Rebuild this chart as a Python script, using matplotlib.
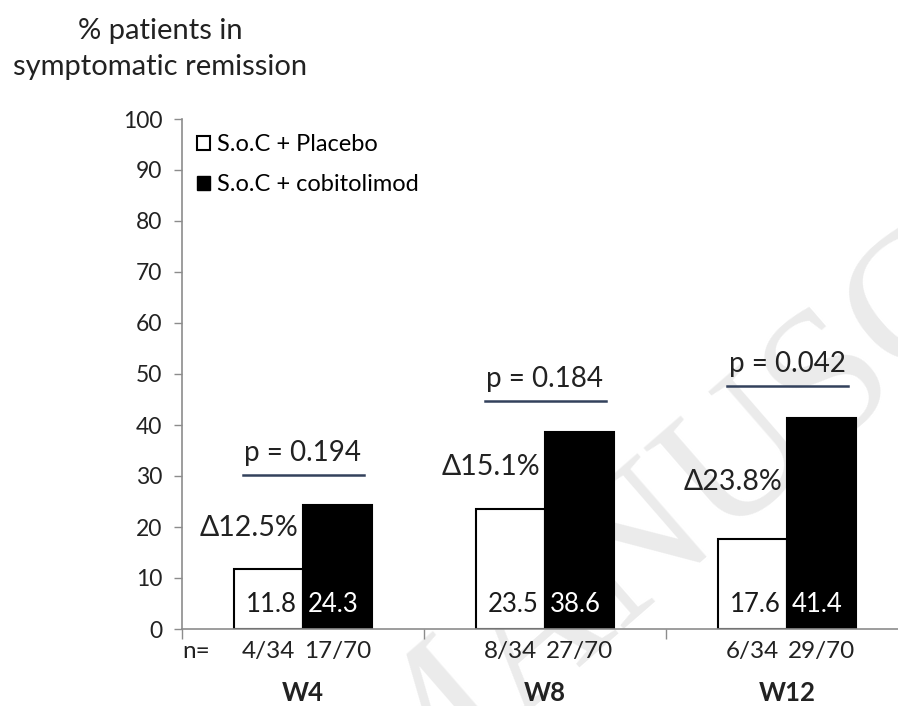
import numpy as np
import matplotlib.pyplot as plt
from matplotlib.patches import Patch

plt.rcParams['font.family'] = ['Lato', 'DejaVu Sans']

weeks = ['W4', 'W8', 'W12']
placebo = [11.8, 23.5, 17.6]
cobitolimod = [24.3, 38.6, 41.4]
n_placebo = ['4/34', '8/34', '6/34']
n_cobi = ['17/70', '27/70', '29/70']
deltas = ['\u039412.5%', '\u039415.1%', '\u039423.8%']
delta_y = [19.8, 31.8, 28.8]
p_values = ['p = 0.194', 'p = 0.184', 'p = 0.042']
p_line_y = [30.2, 44.7, 47.6]

fig = plt.figure(figsize=(8.98, 7.06), dpi=100)
ax = fig.add_axes([182 / 898, 1 - 629 / 706, 716 / 898, 510 / 706])
ax.patch.set_alpha(0)

# faint diagonal watermark behind everything
fig.text(0.91, 0.44, 'MANUSCRIPT', rotation=41, fontsize=135, color='#ebebeb',
         family='Liberation Serif', ha='center', va='center', zorder=-5)

x = np.arange(len(weeks))
w = 0.285
ax.bar(x - w / 2, placebo, w, color='white', edgecolor='black', linewidth=1.5, zorder=2)
ax.bar(x + w / 2, cobitolimod, w, color='black', edgecolor='black', linewidth=1.5, zorder=2)

tr = ax.get_xaxis_transform()
for i in range(len(weeks)):
    ax.text(x[i] - 0.025, 4.9, f'{placebo[i]:.1f}', ha='right', va='center',
            fontsize=18.5, color='#1a1a1a', zorder=3)
    ax.text(x[i] + 0.02, 4.9, f'{cobitolimod[i]:.1f}', ha='left', va='center',
            fontsize=18.5, color='white', zorder=3)
    ax.text(x[i] - 0.02, delta_y[i], deltas[i], ha='right', va='center',
            fontsize=20.5, color='#222222')
    ax.plot([x[i] - 0.25, x[i] + 0.25], [p_line_y[i]] * 2, color='#33415c', lw=1.8)
    ax.text(x[i], p_line_y[i] + 4.3, p_values[i], ha='center', va='center',
            fontsize=20, color='#222222')
    ax.text(x[i] - w / 2, -0.045, n_placebo[i], ha='center', va='center',
            fontsize=17.5, color='#222222', transform=tr)
    ax.text(x[i] + w / 2, -0.045, n_cobi[i], ha='center', va='center',
            fontsize=17.5, color='#222222', transform=tr)
    ax.text(x[i], -0.125, weeks[i], ha='center', va='center', fontsize=18.5,
            fontweight='bold', color='#222222', transform=tr)

ax.text(-0.497, -0.045, 'n=', ha='left', va='center', fontsize=17.5,
        color='#222222', transform=tr)

ax.set_xlim(-0.5, -0.5 + 716 / 242)
ax.set_ylim(0, 100)
ax.set_yticks(range(0, 101, 10))
ax.set_xticks([-0.5, 0.5, 1.5])
ax.set_xticklabels([])
ax.tick_params(axis='y', length=6, width=1, color='#8c8c8c', pad=8,
               labelsize=16.5, labelcolor='#222222')
ax.tick_params(axis='x', length=7, width=1, color='#8c8c8c')
for s in ['top', 'right']:
    ax.spines[s].set_visible(False)
for s in ['left', 'bottom']:
    ax.spines[s].set_color('#8c8c8c')
    ax.spines[s].set_linewidth(1.2)

handles = [Patch(facecolor='white', edgecolor='black', linewidth=1.5),
           Patch(facecolor='black', edgecolor='black')]
ax.legend(handles, ['S.o.C + Placebo', 'S.o.C + cobitolimod'], loc='upper left',
          bbox_to_anchor=(0.021, 0.97), frameon=False, fontsize=17,
          handlelength=0.55, handleheight=0.55, handletextpad=0.3,
          labelspacing=0.8, borderpad=0, borderaxespad=0)

fig.text(160 / 898, 1 - 31 / 706, '% patients in', ha='center', va='center',
         fontsize=21, color='#222222')
fig.text(160 / 898, 1 - 67 / 706, 'symptomatic remission', ha='center', va='center',
         fontsize=21, color='#222222')

fig.savefig('out.png', dpi=100)
